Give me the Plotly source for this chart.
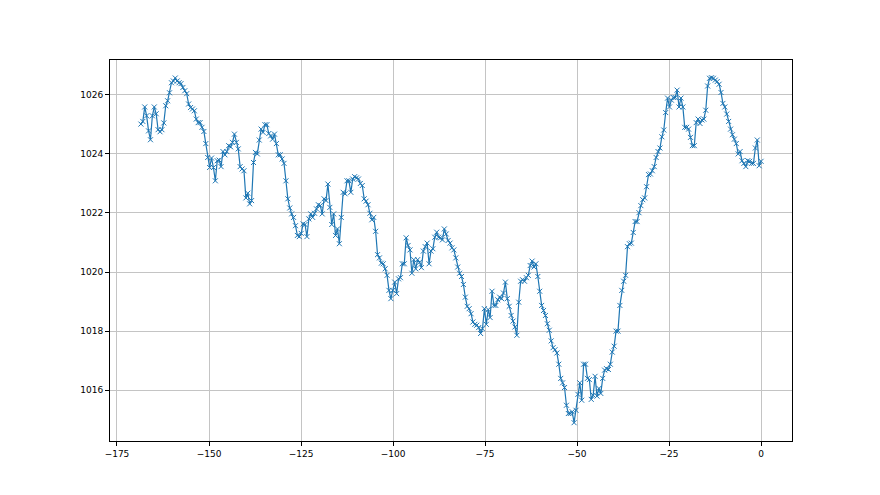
import numpy as np
import plotly.graph_objects as go

# pressure readings (hPa), one every ~30 min over the last week
pressure = [
    1025.01, 1025.10, 1025.59, 1025.29, 1024.78, 1024.48, 1025.29, 1025.59, 1025.36, 1024.82,
    1024.75, 1024.82, 1025.05, 1025.63, 1025.80, 1026.07, 1026.41, 1026.47, 1026.57, 1026.47,
    1026.41, 1026.38, 1026.25, 1026.14, 1026.04, 1025.69, 1025.57, 1025.52, 1025.46, 1025.18,
    1025.06, 1025.06, 1024.90, 1024.76, 1024.35, 1023.88, 1023.54, 1023.86, 1023.54, 1023.09,
    1023.77, 1023.79, 1023.57, 1024.08, 1023.97, 1024.08, 1024.28, 1024.24, 1024.39, 1024.67,
    1024.39, 1024.17, 1023.57, 1023.49, 1023.43, 1022.51, 1022.67, 1022.31, 1022.42, 1023.71,
    1024.05, 1024.00, 1024.47, 1024.84, 1024.73, 1024.99, 1024.99, 1024.69, 1024.61, 1024.50,
    1024.67, 1024.35, 1023.97, 1023.97, 1023.83, 1023.68, 1023.09, 1022.48, 1022.17, 1021.97,
    1021.85, 1021.57, 1021.24, 1021.20, 1021.31, 1021.63, 1021.61, 1021.20, 1021.80, 1021.97,
    1021.85, 1021.99, 1022.14, 1022.28, 1022.25, 1021.97, 1022.48, 1022.42, 1022.98, 1022.19,
    1021.61, 1021.97, 1021.24, 1021.46, 1020.96, 1021.85, 1022.70, 1022.65, 1023.09, 1023.09,
    1022.70, 1023.15, 1023.23, 1023.19, 1023.15, 1023.00, 1022.93, 1022.48, 1022.40, 1022.28,
    1021.99, 1021.77, 1021.85, 1021.38, 1020.59, 1020.48, 1020.30, 1020.28, 1020.11, 1019.89,
    1019.38, 1019.10, 1019.38, 1019.66, 1019.27, 1019.77, 1019.81, 1020.28, 1020.28, 1021.16,
    1020.90, 1020.75, 1019.96, 1020.42, 1020.11, 1020.42, 1020.33, 1020.15, 1020.71, 1020.86,
    1020.98, 1020.28, 1020.71, 1020.79, 1021.18, 1021.35, 1021.18, 1021.16, 1021.09, 1021.46,
    1021.29, 1021.07, 1020.98, 1020.82, 1020.75, 1020.48, 1020.17, 1019.96, 1019.85, 1019.58,
    1019.15, 1018.84, 1018.76, 1018.59, 1018.31, 1018.23, 1018.20, 1018.12, 1017.92, 1018.08,
    1018.76, 1018.23, 1018.73, 1018.46, 1019.35, 1018.87, 1018.87, 1019.06, 1019.15, 1019.10,
    1019.29, 1019.66, 1019.10, 1018.84, 1018.53, 1018.34, 1018.14, 1017.86, 1018.98, 1019.69,
    1019.74, 1019.69, 1019.81, 1019.89, 1020.22, 1020.37, 1020.17, 1020.28, 1019.85, 1019.35,
    1018.87, 1018.70, 1018.53, 1018.25, 1018.03, 1017.67, 1017.44, 1017.37, 1017.26, 1016.88,
    1016.40, 1016.25, 1016.09, 1015.49, 1015.21, 1015.21, 1015.27, 1014.90, 1015.32, 1015.86,
    1016.25, 1015.66, 1016.88, 1016.88, 1016.40, 1016.36, 1015.69, 1015.83, 1016.47, 1015.80,
    1016.06, 1015.89, 1016.40, 1016.68, 1016.73, 1016.70, 1016.88, 1017.29, 1017.49, 1018.00,
    1018.00, 1018.87, 1019.38, 1019.69, 1019.89, 1020.86, 1020.96, 1020.98, 1021.34, 1021.71,
    1021.71, 1022.01, 1022.25, 1022.45, 1022.51, 1022.89, 1023.30, 1023.32, 1023.43, 1023.57,
    1023.88, 1024.08, 1024.20, 1024.58, 1024.81, 1025.40, 1025.89, 1025.59, 1025.82, 1025.91,
    1025.91, 1026.16, 1025.59, 1025.89, 1025.59, 1024.90, 1024.90, 1024.84, 1024.56, 1024.28,
    1024.28, 1025.06, 1025.18, 1025.03, 1025.15, 1025.18, 1025.48, 1026.30, 1026.56, 1026.58,
    1026.56, 1026.50, 1026.45, 1026.36, 1026.08, 1025.71, 1025.59, 1025.35, 1025.10, 1024.84,
    1024.65, 1024.50, 1024.35, 1024.00, 1024.08, 1023.77, 1023.68, 1023.57, 1023.77, 1023.75,
    1023.68, 1023.68, 1024.20, 1024.47, 1023.60, 1023.75,
]
START_HOUR = -168.5
hours = np.linspace(START_HOUR, 0, len(pressure))

x_ticks = [-175, -150, -125, -100, -75, -50, -25, 0]
y_ticks = [1016, 1018, 1020, 1022, 1024, 1026]

BLUE = "#1f77b4"

fig = go.Figure()
fig.add_trace(
    go.Scatter(
        x=hours,
        y=pressure,
        mode="lines+markers",
        line=dict(color=BLUE, width=1.2),
        marker=dict(symbol="x-thin", size=5, line=dict(color=BLUE, width=1)),
        showlegend=False,
    )
)

axis_style = dict(
    showline=True,
    linecolor="black",
    linewidth=1,
    mirror=True,
    showgrid=True,
    gridcolor="#c4c4c4",
    gridwidth=0.8,
    zeroline=False,
    ticks="outside",
    ticklen=4,
    tickcolor="black",
    tickfont=dict(family="DejaVu Sans", size=9, color="black"),
)

# the page body adds 8px round the figure, so margins are trimmed to match
fig.update_layout(
    width=880,
    height=495,
    plot_bgcolor="white",
    paper_bgcolor="white",
    margin=dict(l=102, r=96, t=52, b=62),
)
fig.update_xaxes(range=[-176.9, 8.4], tickvals=x_ticks, **axis_style)
fig.update_yaxes(range=[1014.28, 1027.18], tickvals=y_ticks, **axis_style)

fig.write_html("out.html")
